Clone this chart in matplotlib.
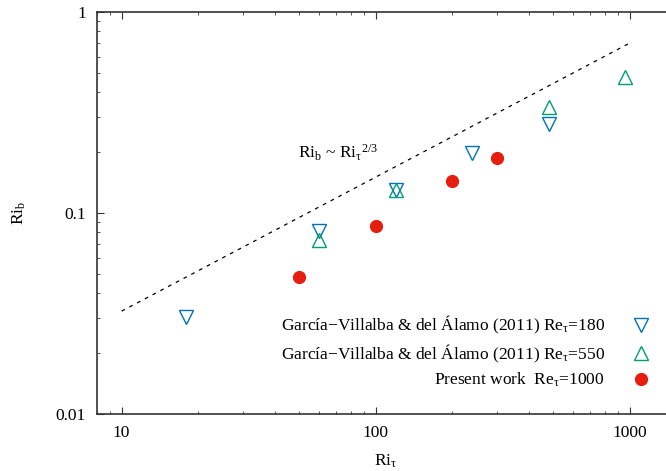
import numpy as np
import matplotlib
matplotlib.use("Agg")
import matplotlib.pyplot as plt

plt.rcParams['font.family'] = ['Liberation Serif', 'DejaVu Serif']
plt.rcParams['mathtext.fontset'] = 'custom'
plt.rcParams['mathtext.rm'] = 'Liberation Serif'
plt.rcParams['mathtext.it'] = 'Liberation Serif:italic'
plt.rcParams['mathtext.bf'] = 'Liberation Serif:bold'

# Data
ri_tau_180 = [18, 60, 120, 240, 480]
ri_b_180 = [0.0304, 0.0813, 0.130, 0.199, 0.277]

ri_tau_550 = [60, 120, 480, 960]
ri_b_550 = [0.0734, 0.130, 0.337, 0.475]

ri_tau_1000 = [50, 100, 200, 300]
ri_b_1000 = [0.048, 0.0861, 0.144, 0.188]

fit_coef = 0.0070
fit_exp = 2.0 / 3.0
fit_range = [10, 1000]

c_blue = '#0072b2'
c_green = '#009e73'
c_red = '#e51e10'

TAU = r'$_{\mathrm{\tau}}$'

W, H = 666, 471
fig = plt.figure(figsize=(W / 100, H / 100), dpi=100)
left_px, top_px, bottom_px = 97, 12, 414
dec_px = 254
xmin, xmax = 8, 1500
width_px = dec_px * np.log10(xmax / xmin)
ax = fig.add_axes([left_px / W, (H - bottom_px) / H, width_px / W, (bottom_px - top_px) / H])
ax.set_xscale('log')
ax.set_yscale('log')
ax.set_xlim(xmin, xmax)
ax.set_ylim(0.01, 1)

xf = np.logspace(np.log10(fit_range[0]), np.log10(fit_range[1]), 200)
ax.plot(xf, fit_coef * xf ** fit_exp, linestyle=(0, (3, 4)), color='black', lw=0.9)

ax.plot(ri_tau_180, ri_b_180, linestyle='none', marker='v', ms=9.5, mfc='none',
        mec=c_blue, mew=1.0,
        label=r'García$-$Villalba & del Álamo (2011) Re' + TAU + '=180')
ax.plot(ri_tau_550, ri_b_550, linestyle='none', marker='^', ms=9.5, mfc='none',
        mec=c_green, mew=1.0,
        label=r'García$-$Villalba & del Álamo (2011) Re' + TAU + '=550')
ax.plot(ri_tau_1000, ri_b_1000, linestyle='none', marker='o', ms=8.5,
        mfc=c_red, mec=c_red, label=r'Present work  Re' + TAU + '=1000')

ax.text(49.4, 0.188, r'Ri$_\mathrm{b}$ ~ Ri$_{\mathrm{\tau}}{}^{2/3}$', fontsize=12.5,
        va='baseline', ha='left')

ax.set_xticks([10, 100, 1000])
ax.set_xticklabels(['10', '100', '1000'])
ax.set_yticks([0.01, 0.1, 1])
ax.set_yticklabels(['0.01', '0.1', '1'])
ax.tick_params(which='both', direction='in', top=True, right=True, labelsize=12.5, color='#333333')
ax.tick_params(which='major', length=5, width=0.8, pad=8)
ax.tick_params(which='minor', length=2.5, width=0.6)
for s in ax.spines.values():
    s.set_linewidth(1.2)
    s.set_color('#333333')

ax.set_xlabel(r'Ri' + TAU, fontsize=12.5, labelpad=8)
ax.set_ylabel(r'Ri$_\mathrm{b}$', fontsize=12.5, labelpad=20)

leg = ax.legend(loc='upper right', bbox_to_anchor=(650 / W, 1 - 314 / H),
                bbox_transform=fig.transFigure, frameon=False, markerfirst=False,
                fontsize=12.5, handlelength=1.0, handletextpad=1.6,
                labelspacing=0.36, borderpad=0, borderaxespad=0)

fig.savefig('out.png', dpi=100)
